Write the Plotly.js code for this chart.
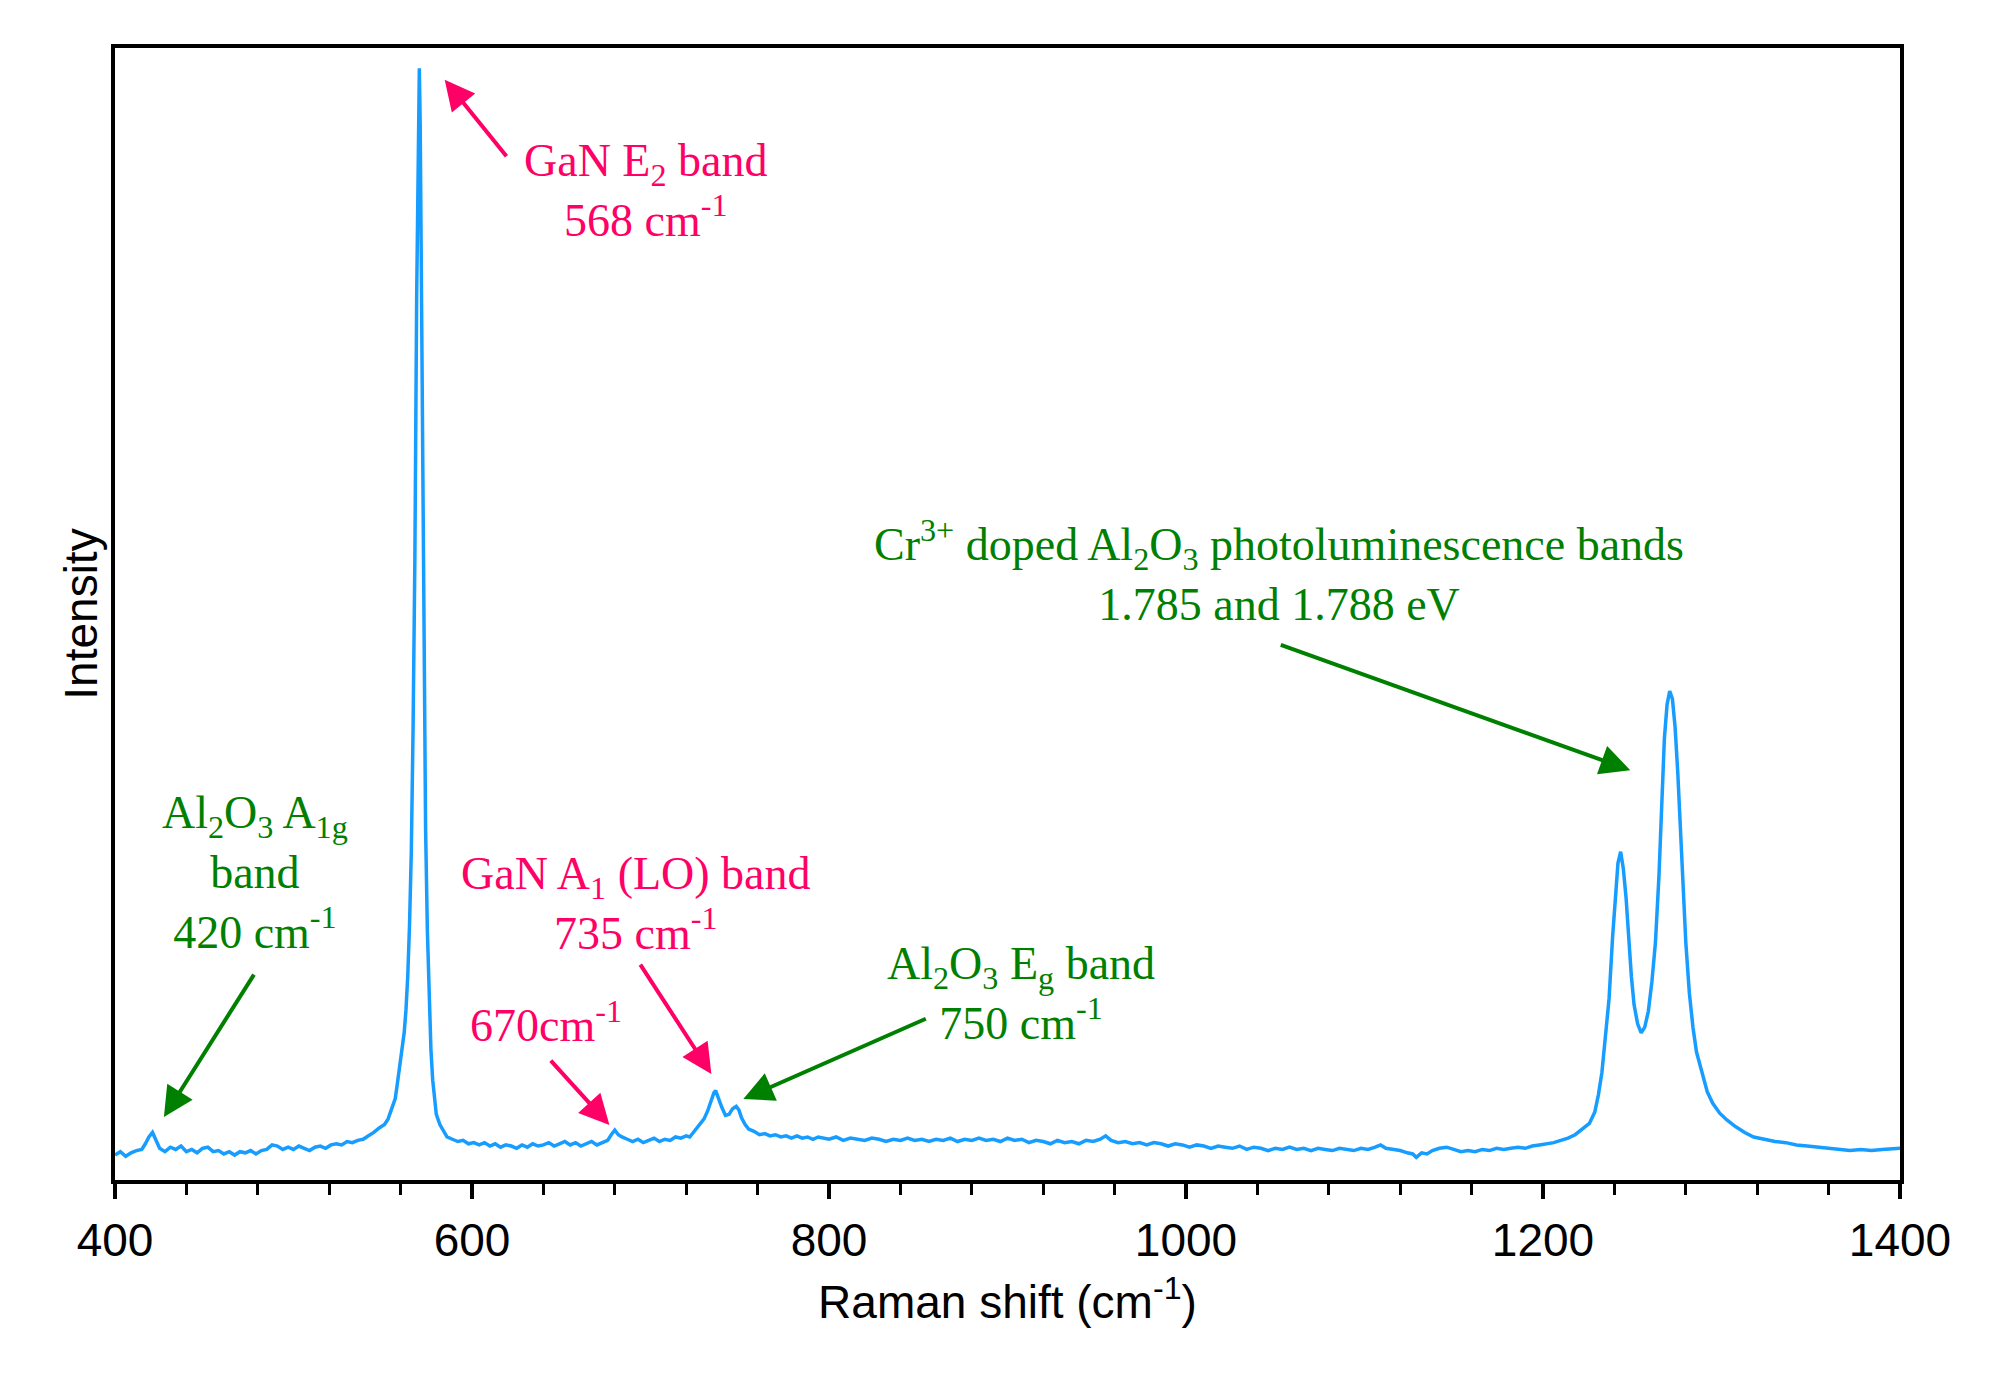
<!DOCTYPE html>
<html>
<head>
<meta charset="utf-8">
<script src="https://cdn.plot.ly/plotly-3.0.1.min.js"></script>
<style>html,body{margin:0;padding:0;background:#fff;}#chart{width:2000px;height:1384px;}</style>
</head>
<body>
<div id="chart"></div>
<script>
// Raman shift (cm-1) and intensity (normalised, arbitrary units)
const ramanShift = [
400,403,406,409,412,415,417,419,421,423,425,428,431,434,437,440,443,446,449,452,455,458,461,464,467,470,473,476,479,482,485,488,491,494,497,500,503,506,509,512,515,518,521,524,527,530,533,536,539,542,545,548,551,553,555,557,558,559,560,561,562,563,564,565,566,567,568,569,570,570.5,571,572,573,574,575,576,577,578,579,580,582,584,586,589,592,595,598,601,604,607,610,613,616,619,622,625,628,631,634,637,640,643,646,649,652,655,658,661,664,667,670,673,676,678,680,682,684,687,690,693,696,699,702,705,708,711,714,717,720,722,724,726,728,730,732,734,735.5,736.5,738,740,742,744,746,748,749.5,751,753,755,758,761,764,767,770,773,776,779,782,785,788,791,794,797,
800,804,808,812,816,820,824,828,832,836,840,844,848,852,856,860,864,868,872,876,880,884,888,892,896,900,904,908,912,916,920,924,928,932,936,940,944,948,952,955,958,962,966,970,974,978,982,986,990,994,998,1002,1006,1010,1014,1018,1022,1026,1030,1034,1038,1042,1046,1050,1054,1058,1062,1066,1070,1074,1078,1082,1086,1090,1094,1098,1102,1106,1109,1112,1116,1120,1124,1127,1129,1132,1135,1138,1142,1146,1150,1154,1158,1162,1166,1170,1174,1178,1182,1186,1190,1194,1198,1202,1206,1210,1214,1218,1222,1226,1229,1231,1233,1235,1237,1239,1240.5,1242,1243.5,1245,1246.5,1248,1249.5,1251,1253,1255,1257,1259,1261,1263,1265,1266.5,1268,1269.5,1271,1272.5,1274,1275.5,1277,1278.5,1280,1282,1284,1286,1289,1292,1295,1299,1303,1308,1313,1318,1324,1330,1336,1342,1348,1354,1360,1366,1372,1378,1384,1390,1396,1400
];
const intensity = [
0.022,0.025,0.021,0.024,0.026,0.027,0.032,0.038,0.042,0.035,0.028,0.025,0.029,0.027,0.030,0.025,0.027,0.024,0.028,0.029,0.025,0.026,0.023,0.025,0.022,0.025,0.024,0.026,0.023,0.026,0.027,0.031,0.030,0.027,0.029,0.027,0.030,0.028,0.026,0.029,0.030,0.028,0.031,0.032,0.031,0.034,0.033,0.035,0.036,0.039,0.042,0.046,0.049,0.054,0.063,0.072,0.083,0.094,0.105,0.116,0.130,0.150,0.180,0.225,0.290,0.400,0.550,0.780,0.950,0.982,0.930,0.700,0.450,0.310,0.220,0.155,0.115,0.088,0.070,0.058,0.049,0.043,0.038,0.036,0.034,0.035,0.032,0.033,0.031,0.033,0.030,0.032,0.029,0.031,0.030,0.028,0.031,0.029,0.032,0.030,0.031,0.033,0.030,0.032,0.034,0.031,0.033,0.030,0.032,0.034,0.031,0.033,0.035,0.040,0.044,0.040,0.038,0.036,0.034,0.036,0.033,0.035,0.037,0.034,0.036,0.035,0.038,0.037,0.039,0.038,0.042,0.045,0.049,0.054,0.061,0.071,0.077,0.079,0.072,0.064,0.057,0.058,0.063,0.065,0.062,0.055,0.049,0.045,0.043,0.040,0.041,0.039,0.040,0.038,0.039,0.037,0.039,0.037,0.038,0.036,0.038,0.037,
0.036,0.038,0.035,0.037,0.036,0.035,0.037,0.036,0.034,0.036,0.035,0.037,0.035,0.036,0.034,0.036,0.035,0.037,0.034,0.036,0.035,0.037,0.035,0.036,0.034,0.037,0.035,0.036,0.033,0.035,0.034,0.032,0.035,0.033,0.034,0.032,0.035,0.034,0.036,0.039,0.035,0.033,0.034,0.032,0.033,0.031,0.033,0.032,0.030,0.032,0.031,0.029,0.031,0.030,0.028,0.030,0.029,0.028,0.030,0.027,0.029,0.028,0.026,0.028,0.027,0.029,0.027,0.028,0.026,0.028,0.027,0.026,0.028,0.027,0.026,0.028,0.027,0.029,0.031,0.028,0.027,0.026,0.024,0.023,0.020,0.024,0.023,0.026,0.028,0.029,0.027,0.025,0.026,0.025,0.027,0.026,0.028,0.027,0.028,0.029,0.028,0.030,0.031,0.032,0.033,0.035,0.037,0.040,0.045,0.050,0.060,0.075,0.095,0.125,0.160,0.215,0.251,0.280,0.290,0.275,0.250,0.210,0.180,0.155,0.138,0.130,0.135,0.149,0.175,0.210,0.270,0.330,0.390,0.420,0.432,0.425,0.400,0.360,0.305,0.255,0.210,0.165,0.135,0.113,0.094,0.078,0.068,0.059,0.053,0.047,0.042,0.038,0.036,0.034,0.033,0.031,0.030,0.029,0.028,0.027,0.026,0.027,0.026,0.027,0.028,0.028
];
const xTickVals = [400, 600, 800, 1000, 1200, 1400];
const xTickText = ['400', '600', '800', '1000', '1200', '1400'];

const pink = '#FF0066';
const green = '#008000';
const serif = {family: 'Liberation Serif, Times New Roman, serif', size: 46};

const trace = {
  x: ramanShift, y: intensity, type: 'scatter', mode: 'lines',
  line: {color: '#179DFF', width: 3.5}, hoverinfo: 'skip'
};

function label(text, x, y, color) {
  return {text: text, x: x, y: y, xref: 'x', yref: 'y', showarrow: false,
          font: Object.assign({}, serif, {color: color}), align: 'center',
          xanchor: 'center', yanchor: 'middle'};
}
function arrow(x, y, ax, ay, color) {
  return {text: '', x: x, y: y, xref: 'x', yref: 'y', ax: ax, ay: ay,
          showarrow: true, arrowhead: 2, arrowsize: 1.5, arrowwidth: 4,
          arrowcolor: color, standoff: 0};
}

const annotations = [
  label('GaN E<sub>2</sub> band<br>568 cm<sup>-1</sup>', 697, 0.874, pink),
  arrow(584.7, 0.972, 63, 78, pink),
  label('Al<sub>2</sub>O<sub>3</sub> A<sub>1g</sub><br>band<br>420 cm<sup>-1</sup>', 478.3, 0.272, green),
  arrow(427.4, 0.0556, 91, -144, green),
  label('GaN A<sub>1</sub> (LO) band<br>735 cm<sup>-1</sup>', 691.6, 0.2445, pink),
  arrow(734.1, 0.0936, -72, -111, pink),
  label('670cm<sup>-1</sup>', 641.7, 0.1395, pink),
  arrow(677, 0.0485, -60, -66, pink),
  label('Al<sub>2</sub>O<sub>3</sub> E<sub>g</sub> band<br>750 cm<sup>-1</sup>', 907.6, 0.165, green),
  arrow(752, 0.0715, 184, -81, green),
  label('Cr<sup>3+</sup> doped Al<sub>2</sub>O<sub>3</sub> photoluminescence bands<br>1.785 and 1.788 eV', 1051.9, 0.5384, green),
  arrow(1248.9, 0.362, -351, -126, green)
];

const sans = 'Liberation Sans, Arial, sans-serif';
const layout = {
  width: 2000, height: 1384,
  margin: {l: 115, r: 100, t: 48, b: 204},
  paper_bgcolor: '#fff', plot_bgcolor: '#fff',
  showlegend: false,
  xaxis: {
    range: [400, 1400], showgrid: false, zeroline: false,
    showline: true, linecolor: '#000', linewidth: 4, mirror: true,
    ticks: 'outside', ticklen: 15, tickwidth: 4, tickcolor: '#000',
    tickvals: xTickVals, ticktext: xTickText,
    tickfont: {family: sans, size: 46, color: '#000'},
    ticklabelstandoff: 2,
    minor: {dtick: 40, tick0: 400, ticks: 'outside', ticklen: 11, tickwidth: 3, tickcolor: '#000', showgrid: false},
    title: {text: 'Raman shift (cm<sup>-1</sup>)', font: {family: sans, size: 46, color: '#000'}, standoff: 22}
  },
  yaxis: {
    range: [0, 1], showgrid: false, zeroline: false,
    showline: true, linecolor: '#000', linewidth: 4, mirror: true,
    ticks: '', showticklabels: false,
    title: {text: 'Intensity', font: {family: sans, size: 46, color: '#000'}, standoff: 0}
  },
  annotations: annotations
};

Plotly.newPlot('chart', [trace], layout, {displayModeBar: false, staticPlot: true});
</script>
</body>
</html>
